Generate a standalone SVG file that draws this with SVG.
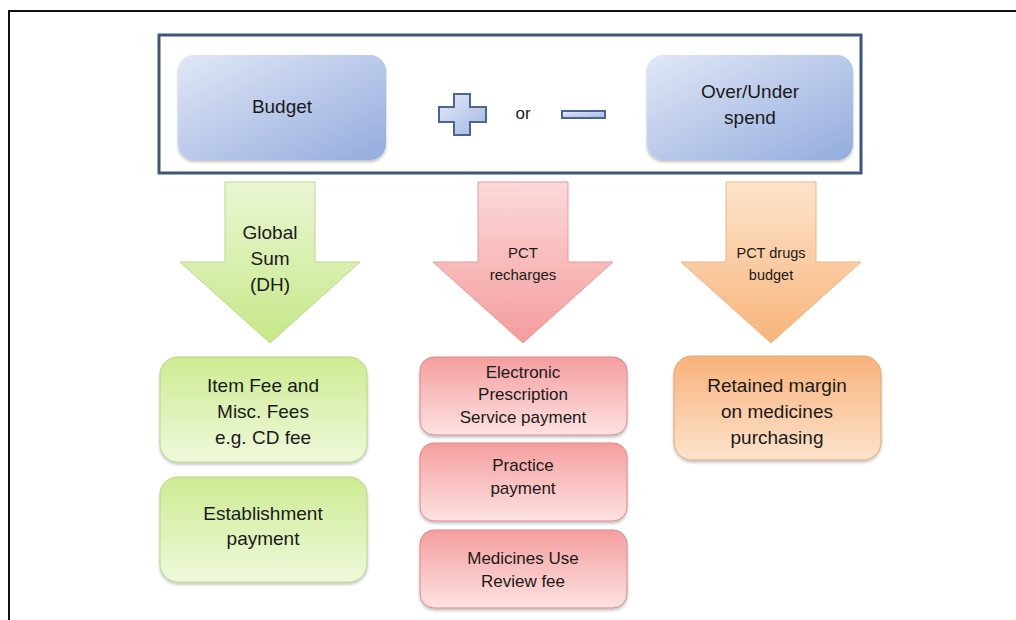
<svg xmlns="http://www.w3.org/2000/svg" width="1016" height="620" viewBox="0 0 1016 620">
<defs>
  <linearGradient id="gBlue" x1="0" y1="0" x2="1" y2="1">
    <stop offset="0" stop-color="#e1e7f6"/>
    <stop offset="1" stop-color="#93acde"/>
  </linearGradient>
  <linearGradient id="gSign" x1="0" y1="0" x2="1" y2="1">
    <stop offset="0" stop-color="#e3e9f7"/>
    <stop offset="1" stop-color="#a3b8e2"/>
  </linearGradient>
  <linearGradient id="gGreenA" x1="0" y1="0" x2="0" y2="1">
    <stop offset="0" stop-color="#eaf6d4"/>
    <stop offset="1" stop-color="#c6e888"/>
  </linearGradient>
  <linearGradient id="gRedA" x1="0" y1="0" x2="0" y2="1">
    <stop offset="0" stop-color="#fcd9d9"/>
    <stop offset="1" stop-color="#f49c9c"/>
  </linearGradient>
  <linearGradient id="gOrangeA" x1="0" y1="0" x2="0" y2="1">
    <stop offset="0" stop-color="#fde4cc"/>
    <stop offset="1" stop-color="#f8b47a"/>
  </linearGradient>
  <linearGradient id="gGreenB" x1="0" y1="0" x2="0" y2="1">
    <stop offset="0" stop-color="#cdeb92"/>
    <stop offset="1" stop-color="#eff9dc"/>
  </linearGradient>
  <linearGradient id="gRedB" x1="0" y1="0" x2="0" y2="1">
    <stop offset="0" stop-color="#f59e9e"/>
    <stop offset="1" stop-color="#fde2e2"/>
  </linearGradient>
  <linearGradient id="gOrangeB" x1="0" y1="0" x2="0" y2="1">
    <stop offset="0" stop-color="#f8b27a"/>
    <stop offset="1" stop-color="#fde3cd"/>
  </linearGradient>
  <filter id="sh" x="-10%" y="-10%" width="120%" height="130%">
    <feDropShadow dx="0" dy="2" stdDeviation="1.5" flood-color="#000" flood-opacity="0.25"/>
  </filter>
</defs>
<style>
  text { font-family: "Liberation Sans", Arial, sans-serif; fill: #1a1a1a; text-anchor: middle; }
  .big { font-size: 19px; }
  .mid { font-size: 17px; }
  .sm { font-size: 15px; }
  .xs { font-size: 14.5px; }
  .blue { fill: url(#gBlue); filter: url(#sh); }
  .sign { fill: url(#gSign); stroke: #4a6590; stroke-width: 2; }
  .gA { fill: url(#gGreenA); stroke: #b9d98a; stroke-width: 1; }
  .rA { fill: url(#gRedA); stroke: #e39a9a; stroke-width: 1; }
  .oA { fill: url(#gOrangeA); stroke: #ecb685; stroke-width: 1; }
  .gB { fill: url(#gGreenB); stroke: #b6d487; stroke-width: 1; filter: url(#sh); }
  .rB { fill: url(#gRedB); stroke: #d98888; stroke-width: 1; filter: url(#sh); }
  .oB { fill: url(#gOrangeB); stroke: #e2a570; stroke-width: 1; filter: url(#sh); }
</style>
<rect width="1016" height="620" fill="#ffffff"/>
<rect x="9" y="11" width="1100" height="700" fill="none" stroke="#111" stroke-width="2"/>

<g id="top-frame">
  <rect x="159" y="35" width="702" height="138" fill="#ffffff" stroke="#3d5676" stroke-width="3"/>
</g>
<g id="budget">
  <rect class="blue" x="178" y="55" width="208" height="105" rx="16"/>
  <text class="big" x="282" y="113">Budget</text>
</g>
<g id="plus">
  <path class="sign" d="M454,94 H470 V107 H486 V122 H470 V135 H454 V122 H439 V107 H454 Z"/>
</g>
<g id="or">
  <text x="523" y="119" style="font-size:17px">or</text>
</g>
<g id="minus">
  <rect class="sign" x="562" y="111" width="43" height="7"/>
</g>
<g id="overunder">
  <rect class="blue" x="647" y="55" width="206" height="105" rx="16"/>
  <text class="big" x="750" y="98">Over/Under</text>
  <text class="big" x="750" y="124">spend</text>
</g>

<g id="connectors">
  <g id="arrow-global">
    <path class="gA" d="M225,182 H315 V262 H360 L270,343 L180,262 H225 Z"/>
    <text class="big" x="270" y="239">Global</text>
    <text class="big" x="270" y="265">Sum</text>
    <text class="big" x="270" y="291">(DH)</text>
  </g>
  <g id="arrow-pct">
    <path class="rA" d="M478,182 H568 V262 H613 L523,343 L433,262 H478 Z"/>
    <text class="sm" x="523" y="258">PCT</text>
    <text class="sm" x="523" y="280">recharges</text>
  </g>
  <g id="arrow-drugs">
    <path class="oA" d="M726,182 H816 V262 H861 L771,343 L681,262 H726 Z"/>
    <text class="xs" x="771" y="258">PCT drugs</text>
    <text class="xs" x="771" y="280">budget</text>
  </g>
</g>

<g id="item-fee">
  <rect class="gB" x="160" y="357" width="207" height="105" rx="18"/>
  <text class="big" x="263" y="392">Item Fee and</text>
  <text class="big" x="263" y="418">Misc. Fees</text>
  <text class="big" x="263" y="444">e.g. CD fee</text>
</g>
<g id="establishment">
  <rect class="gB" x="160" y="477" width="207" height="105" rx="18"/>
  <text class="big" x="263" y="520">Establishment</text>
  <text class="big" x="263" y="545">payment</text>
</g>
<g id="eps">
  <rect class="rB" x="420" y="357" width="207" height="78" rx="14"/>
  <text class="mid" x="523" y="378">Electronic</text>
  <text class="mid" x="523" y="400">Prescription</text>
  <text class="mid" x="523" y="423">Service payment</text>
</g>
<g id="practice">
  <rect class="rB" x="420" y="443" width="207" height="78" rx="14"/>
  <text class="mid" x="523" y="471">Practice</text>
  <text class="mid" x="523" y="494">payment</text>
</g>
<g id="mur">
  <rect class="rB" x="420" y="530" width="207" height="78" rx="14"/>
  <text class="mid" x="523" y="564">Medicines Use</text>
  <text class="mid" x="523" y="587">Review fee</text>
</g>
<g id="retained">
  <rect class="oB" x="674" y="356" width="207" height="104" rx="18"/>
  <text class="big" x="777" y="392">Retained margin</text>
  <text class="big" x="777" y="418">on medicines</text>
  <text class="big" x="777" y="444">purchasing</text>
</g>
</svg>
